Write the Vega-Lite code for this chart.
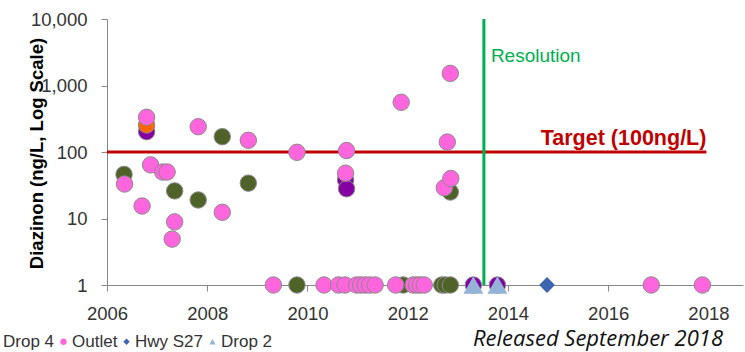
{
  "$schema": "https://vega.github.io/schema/vega-lite/v6.json",
  "width": 636,
  "height": 266,
  "autosize": {"type": "none"},
  "padding": {"left": 107, "top": 19, "right": 2, "bottom": 67},
  "config": {"view": {"stroke": null}, "font": "Liberation Sans"},
  "title": {"text": "Released September 2018", "orient": "bottom", "anchor": "end", "font": "Open Sans", "fontStyle": "italic", "fontWeight": "normal", "fontSize": 22, "color": "#111111", "dx": -20, "dy": -21, "offset": 0},
  "layer": [
    {
      "data": {"values": [{}]},
      "mark": {"type": "rule", "color": "#c00000", "strokeWidth": 3},
      "encoding": {"x": {"datum": 2006}, "x2": {"datum": 2017.96}, "y": {"datum": 100}}
    },
    {
      "data": {"values": [{}]},
      "mark": {"type": "rule", "color": "#00b050", "strokeWidth": 3},
      "encoding": {"x": {"datum": 2013.52}}
    },
    {
      "data": {"values": [
        {"site": "Drop 1", "year": 2006.79, "value": 202},
        {"site": "Drop 1", "year": 2010.76, "value": 38},
        {"site": "Drop 1", "year": 2010.78, "value": 28},
        {"site": "Drop 1", "year": 2013.31, "value": 1},
        {"site": "Drop 1", "year": 2013.79, "value": 1},
        {"site": "Drop 3", "year": 2006.79, "value": 255},
        {"site": "Drop 4", "year": 2006.34, "value": 46},
        {"site": "Drop 4", "year": 2007.35, "value": 26},
        {"site": "Drop 4", "year": 2007.82, "value": 19},
        {"site": "Drop 4", "year": 2008.30, "value": 170},
        {"site": "Drop 4", "year": 2008.82, "value": 34},
        {"site": "Drop 4", "year": 2009.79, "value": 1},
        {"site": "Drop 4", "year": 2011.91, "value": 1},
        {"site": "Drop 4", "year": 2012.68, "value": 1},
        {"site": "Drop 4", "year": 2012.75, "value": 1},
        {"site": "Drop 4", "year": 2012.85, "value": 1},
        {"site": "Drop 4", "year": 2012.85, "value": 25},
        {"site": "Outlet", "year": 2006.35, "value": 33},
        {"site": "Outlet", "year": 2006.70, "value": 15.4},
        {"site": "Outlet", "year": 2006.79, "value": 333},
        {"site": "Outlet", "year": 2006.87, "value": 64},
        {"site": "Outlet", "year": 2007.11, "value": 50},
        {"site": "Outlet", "year": 2007.20, "value": 50},
        {"site": "Outlet", "year": 2007.35, "value": 8.9},
        {"site": "Outlet", "year": 2007.30, "value": 4.9},
        {"site": "Outlet", "year": 2007.82, "value": 240},
        {"site": "Outlet", "year": 2008.30, "value": 12.4},
        {"site": "Outlet", "year": 2008.82, "value": 150},
        {"site": "Outlet", "year": 2009.79, "value": 99},
        {"site": "Outlet", "year": 2010.78, "value": 105},
        {"site": "Outlet", "year": 2010.76, "value": 48},
        {"site": "Outlet", "year": 2011.87, "value": 559},
        {"site": "Outlet", "year": 2012.85, "value": 1520},
        {"site": "Outlet", "year": 2012.79, "value": 141},
        {"site": "Outlet", "year": 2012.73, "value": 29},
        {"site": "Outlet", "year": 2012.86, "value": 40},
        {"site": "Outlet", "year": 2009.32, "value": 1},
        {"site": "Outlet", "year": 2010.33, "value": 1},
        {"site": "Outlet", "year": 2010.62, "value": 1},
        {"site": "Outlet", "year": 2010.75, "value": 1},
        {"site": "Outlet", "year": 2010.98, "value": 1},
        {"site": "Outlet", "year": 2011.06, "value": 1},
        {"site": "Outlet", "year": 2011.15, "value": 1},
        {"site": "Outlet", "year": 2011.24, "value": 1},
        {"site": "Outlet", "year": 2011.35, "value": 1},
        {"site": "Outlet", "year": 2011.76, "value": 1},
        {"site": "Outlet", "year": 2012.11, "value": 1},
        {"site": "Outlet", "year": 2012.18, "value": 1},
        {"site": "Outlet", "year": 2012.25, "value": 1},
        {"site": "Outlet", "year": 2012.33, "value": 1},
        {"site": "Outlet", "year": 2016.86, "value": 1},
        {"site": "Outlet", "year": 2017.88, "value": 1},
        {"site": "Hwy S27", "year": 2014.78, "value": 1},
        {"site": "Drop 2", "year": 2013.31, "value": 1},
        {"site": "Drop 2", "year": 2013.79, "value": 1}
      ]},
      "mark": {"type": "point", "filled": true, "opacity": 1, "stroke": "#8a8a8a"},
      "encoding": {
        "x": {"field": "year", "type": "quantitative",
          "scale": {"domain": [2006, 2018.69], "nice": false, "zero": false},
          "axis": {"title": null, "values": [2006, 2008, 2010, 2012, 2014, 2016, 2018], "format": "d", "grid": false,
            "labelFlush": false, "labelOverlap": false,
            "domainColor": "#868686", "tickColor": "#868686", "tickSize": 6, "labelPadding": 13,
            "labelFont": "Liberation Sans", "labelFontSize": 18.5, "labelColor": "#333333"}},
        "y": {"field": "value", "type": "quantitative",
          "scale": {"type": "log", "domain": [1, 10000], "nice": false},
          "axis": {"title": "Diazinon (ng/L, Log Scale)", "values": [1, 10, 100, 1000, 10000], "format": ",", "grid": false,
            "labelFlush": false, "labelOverlap": false,
            "domainColor": "#868686", "tickColor": "#868686", "tickSize": 6, "labelPadding": 14,
            "labelFont": "Liberation Sans", "labelFontSize": 18.5, "labelColor": "#333333",
            "titleFont": "Liberation Sans", "titleFontSize": 18.5, "titleFontWeight": "bold", "titleColor": "#000000",
            "titleAngle": 270, "titleAlign": "center", "titleBaseline": "middle", "titleX": -71, "titleY": 134}},
        "color": {"field": "site", "type": "nominal",
          "scale": {"domain": ["Drop 1", "Drop 3", "Drop 4", "Outlet", "Hwy S27", "Drop 2"],
            "range": ["#8500a3", "#ff6600", "#4f6228", "#ff66dd", "#3d64ae", "#95b3d7"]},
          "legend": {"title": null, "orient": "none", "direction": "horizontal", "legendX": -259, "legendY": 314,
            "labelFont": "Liberation Sans", "labelFontSize": 17, "labelColor": "#333333",
            "symbolSize": 40, "symbolStrokeWidth": 0, "labelOffset": 0, "columnPadding": 0}},
        "shape": {"field": "site", "type": "nominal",
          "scale": {"domain": ["Drop 1", "Drop 3", "Drop 4", "Outlet", "Hwy S27", "Drop 2"],
            "range": ["circle", "circle", "circle", "circle", "diamond", "triangle-up"]}},
        "size": {"condition": [{"test": "datum.site === 'Hwy S27'", "value": 250}, {"test": "datum.site === 'Drop 2'", "value": 400}], "value": 270},
        "strokeWidth": {"condition": {"test": "datum.site === 'Hwy S27' || datum.site === 'Drop 2'", "value": 0}, "value": 1}
      }
    },
    {
      "data": {"values": [{}]},
      "mark": {"type": "text", "align": "right", "baseline": "alphabetic", "dy": -7, "fontSize": 21.5, "fontWeight": "bold", "color": "#c00000", "font": "Liberation Sans"},
      "encoding": {"x": {"datum": 2017.96}, "y": {"datum": 100}, "text": {"value": "Target (100ng/L)"}}
    },
    {
      "data": {"values": [{}]},
      "mark": {"type": "text", "align": "left", "baseline": "alphabetic", "dx": 7, "fontSize": 19, "color": "#00b050", "font": "Liberation Sans"},
      "encoding": {"x": {"datum": 2013.52}, "y": {"datum": 2250}, "text": {"value": "Resolution"}}
    }
  ]
}
